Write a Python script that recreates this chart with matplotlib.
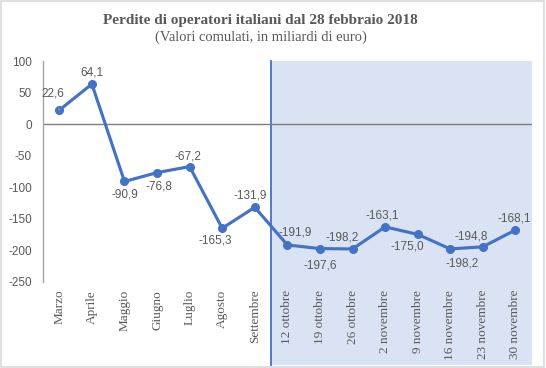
import matplotlib
matplotlib.use("Agg")
import matplotlib.pyplot as plt
from matplotlib.patches import Rectangle
import matplotlib.transforms as mtransforms

categories = ["Marzo", "Aprile", "Maggio", "Giugno", "Luglio", "Agosto", "Settembre",
              "12 ottobre", "19 ottobre", "26 ottobre", "2 novembre", "9 novembre",
              "16 novembre", "23 novembre", "30 novembre"]
values = [22.6, 64.1, -90.9, -76.8, -67.2, -165.3, -131.9,
          -191.9, -197.6, -198.2, -163.1, -175.0, -198.2, -194.8, -168.1]
yticks = [100, 50, 0, -50, -100, -150, -200, -250]

# label offsets from each point, in pixels (dx, dy; dy positive = up)
label_offsets = [(-6, 17), (0, 12), (0, -13), (2, -13.5), (-2, 10.5), (-7, -12),
                 (-5, 11.5), (8, 12), (0, -17), (-10, 11), (-3, 11), (-10, -12),
                 (12, -14.5), (-12, 10.7), (-1, 11.5)]

line_color = "#4472C4"
text_color = "#595959"

fig = plt.figure(figsize=(5.46, 3.68), dpi=100)
ax = fig.add_axes([0.0788, 0.235, 0.895, 0.598])

x = list(range(len(categories)))
ax.set_xlim(-0.5, len(categories) - 0.5)
ax.set_ylim(-250, 100)

# shaded region (weeks) extending below axis into label area
trans = mtransforms.blended_transform_factory(ax.transData, ax.transAxes)
ax.add_patch(Rectangle((6.5, -0.38), 8.0, 1.38, transform=trans,
                       facecolor="#DAE3F3", edgecolor="none", clip_on=False, zorder=0))
ax.plot([6.5, 6.5], [-0.38, 1.0], transform=trans, color=line_color, lw=1.3,
        clip_on=False, zorder=1)

ax.axhline(0, color="#7F7F7F", lw=1.0, zorder=1)
ax.plot(x, values, color=line_color, lw=2.25, marker="o", markersize=5.5, zorder=3,
        solid_joinstyle="round")

for i, (v, (dx, dy)) in enumerate(zip(values, label_offsets)):
    lab = f"{v:.1f}".replace(".", ",")
    kw = {}
    if i == 0:
        kw["arrowprops"] = dict(arrowstyle="-", color="#A6A6A6", lw=0.7,
                                shrinkA=5, shrinkB=3)
    ax.annotate(lab, (i, v), xytext=(dx * 0.72, dy * 0.72), textcoords="offset points",
                ha="center", va="center", fontsize=8.5, color=text_color,
                family="Liberation Sans", zorder=4, **kw)

for s in ["top", "right", "bottom"]:
    ax.spines[s].set_visible(False)
ax.spines["left"].set_color("#A6A6A6")
ax.spines["left"].set_linewidth(1.0)
ax.set_facecolor("none")

ax.set_yticks(yticks)
ax.set_yticklabels([str(t) for t in yticks], fontsize=8.5, color=text_color,
                   family="Liberation Sans")
ax.set_xticks(x)
ax.set_xticklabels(categories, rotation=90, fontsize=9.5, color=text_color,
                   family="Liberation Serif")
ax.tick_params(axis="y", length=0, pad=8)
ax.tick_params(axis="x", length=0, pad=6)

fig.text(0.477, 0.945, "Perdite di operatori italiani dal 28 febbraio 2018",
         ha="center", va="center", fontsize=11, fontweight="bold",
         color=text_color, family="Liberation Serif")
fig.text(0.477, 0.90, "(Valori comulati, in miliardi di euro)", ha="center",
         va="center", fontsize=10.5, color=text_color, family="Liberation Serif")

fig.patches.append(Rectangle((0.002, 0.003), 0.995, 0.993, transform=fig.transFigure,
                             facecolor="none", edgecolor="#D9D9D9", lw=1.2))

fig.savefig("out.png", dpi=100)
